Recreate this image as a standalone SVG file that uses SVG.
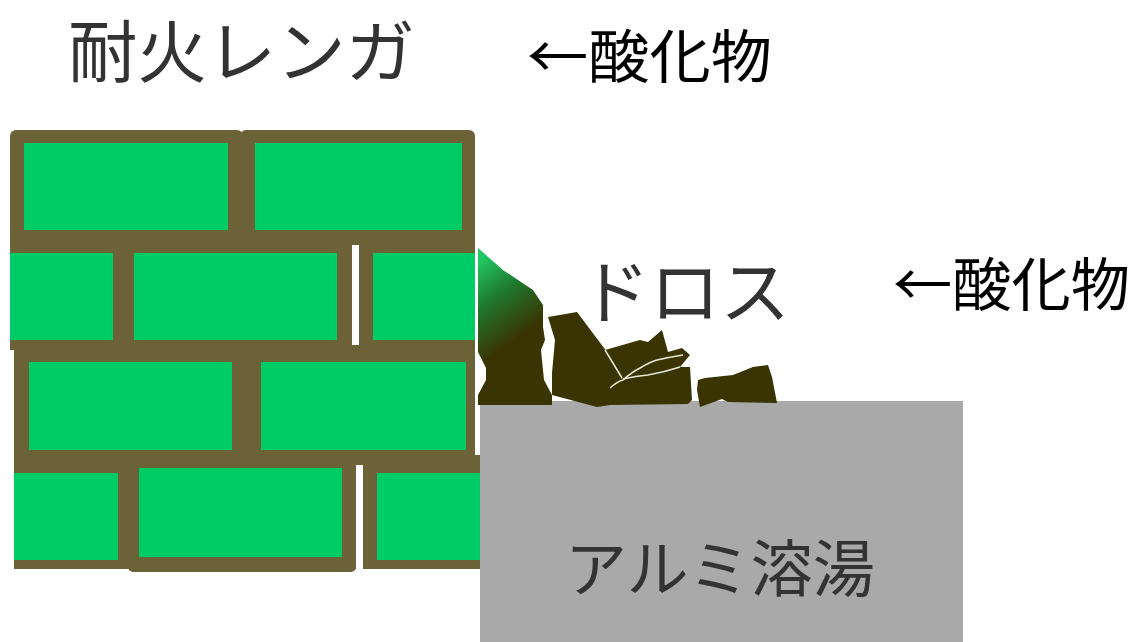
<svg xmlns="http://www.w3.org/2000/svg" width="1138" height="642" viewBox="0 0 1138 642">
  <style>
    .mortar { fill: #6b6337; }
    .brick { fill: #00cc66; }
    .gap { fill: #ffffff; }
    .dross { fill: #3a3403; }
    .crack { fill: none; stroke: #e8e8d8; stroke-width: 1.5; }
    .label { font-family: "Noto Sans CJK JP", "Noto Sans CJK SC", sans-serif; fill: #333333; }
    .note { font-family: "Noto Sans CJK JP", "Noto Sans CJK SC", sans-serif; fill: #000000; }
  </style>
  <defs>
    <linearGradient id="drossFade" gradientUnits="userSpaceOnUse" x1="478" y1="262" x2="528" y2="330">
      <stop offset="0" stop-color="#22c664"/>
      <stop offset="0.45" stop-color="#1f7a2e"/>
      <stop offset="1" stop-color="#3a3403"/>
    </linearGradient>
  </defs>
  <rect width="1138" height="642" fill="#ffffff"/>

  <!-- molten aluminium -->
  <g id="melt">
    <rect x="480" y="401" width="483" height="241" fill="#a9a9a9"/>
    <text class="label" x="565" y="592" font-size="62" textLength="310" lengthAdjust="spacingAndGlyphs">アルミ溶湯</text>
  </g>

  <!-- refractory brick wall -->
  <g id="wall">
    <!-- row 1 -->
    <rect class="mortar" x="10" y="130" width="233" height="122" rx="6"/>
    <rect class="mortar" x="240" y="130" width="235" height="122" rx="6"/>
    <rect class="brick" x="24" y="143" width="204" height="87"/>
    <rect class="brick" x="255" y="143" width="207" height="87"/>
    <!-- row 2 -->
    <rect class="mortar" x="10" y="230" width="465" height="120"/>
    <rect class="brick" x="10" y="253" width="103" height="87"/>
    <rect class="brick" x="134" y="253" width="203" height="87"/>
    <rect class="brick" x="373" y="253" width="102" height="87"/>
    <rect class="gap" x="352" y="245" width="7" height="102"/>
    <!-- row 3 -->
    <rect class="mortar" x="14" y="345" width="461" height="122"/>
    <rect class="brick" x="29" y="362" width="203" height="88"/>
    <rect class="brick" x="261" y="362" width="205" height="88"/>
    <!-- row 4 -->
    <rect class="mortar" x="14" y="455" width="466" height="114"/>
    <rect class="mortar" x="128" y="455" width="228" height="117" rx="5"/>
    <rect class="brick" x="14" y="473" width="104" height="87"/>
    <rect class="brick" x="139" y="468" width="203" height="89"/>
    <rect class="brick" x="377" y="473" width="103" height="87"/>
    <rect class="gap" x="356" y="465" width="7" height="107"/>
    <text class="label" x="68" y="77" font-size="68" textLength="347" lengthAdjust="spacingAndGlyphs">耐火レンガ</text>
    <text class="note" x="527" y="78" font-size="58" textLength="245" lengthAdjust="spacingAndGlyphs">←酸化物</text>
  </g>

  <!-- dross lumps on the melt surface -->
  <g id="dross">
    <path fill="url(#drossFade)" d="M478,248 L503,270 L533,290 L543,305 L543,327 L545,340 L541,350 L544,380 L552,395 L552,405 L478,405 L478,395 L486,380 L486,368 L478,352 Z"/>
    <path class="dross" d="M548,317 L577,312 L607,352 L605,350 L640,340 L648,342 L662,330 L668,352 L682,348 L690,355 L680,367 L690,367 L692,400 L688,404 L610,405 L597,407 L552,395 L552,373 L555,340 Z"/>
    <path class="crack" d="M605,350 L622,378"/>
    <path class="crack" d="M610,388 Q618,381 623,380 Q632,372 640,368 Q650,362 657,360 Q670,357 683,355"/>
    <path class="crack" d="M623,379 Q636,376 648,375 Q665,372 680,367"/>
    <path class="dross" d="M697,390 L698,380 L705,378 L733,375 L753,367 L768,365 L772,377 L777,403 L728,402 L722,399 L700,407 Z"/>
    <text class="label" x="580" y="318" font-size="70" textLength="210" lengthAdjust="spacingAndGlyphs">ドロス</text>
    <text class="note" x="893" y="306" font-size="58" textLength="237" lengthAdjust="spacingAndGlyphs">←酸化物</text>
  </g>
</svg>
